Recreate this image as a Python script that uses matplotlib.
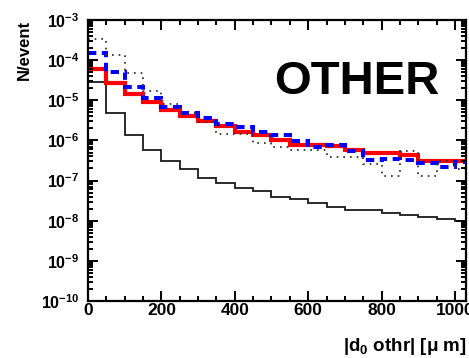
import numpy as np
import matplotlib
matplotlib.use('Agg')
import matplotlib.pyplot as plt
from matplotlib.ticker import LogLocator, MultipleLocator, FuncFormatter, NullFormatter

plt.rcParams['font.family'] = ['Liberation Sans', 'DejaVu Sans']
plt.rcParams['font.weight'] = 'bold'
plt.rcParams['mathtext.fontset'] = 'custom'
plt.rcParams['mathtext.rm'] = 'Liberation Sans:bold'
plt.rcParams['mathtext.bf'] = 'Liberation Sans:bold'
plt.rcParams['mathtext.it'] = 'Liberation Sans:bold'
plt.rcParams['lines.scale_dashes'] = False

# |d0| bins of 50 um
bin_edges = np.arange(0, 1051, 50)

# N/event per bin
black_solid = [2.84e-5, 4.80e-6, 1.35e-6, 5.73e-7, 3.05e-7, 1.89e-7, 1.19e-7,
               8.47e-8, 6.35e-8, 5.44e-8, 3.79e-8, 3.44e-8, 2.78e-8, 2.21e-8,
               1.83e-8, 1.83e-8, 1.54e-8, 1.37e-8, 1.22e-8, 1.11e-8, 9.9e-9]
red_solid = [5.90e-5, 2.64e-5, 1.40e-5, 9.18e-6, 5.70e-6, 4.04e-6, 3.08e-6,
             2.28e-6, 1.64e-6, 1.35e-6, 1.02e-6, 7.64e-7, 7.64e-7, 7.21e-7,
             5.73e-7, 4.74e-7, 4.74e-7, 4.30e-7, 3.05e-7, 3.05e-7, 3.05e-7]
blue_dashed = [1.53e-4, 5.14e-5, 2.17e-5, 1.12e-5, 6.65e-6, 4.71e-6, 3.54e-6,
               2.51e-6, 2.11e-6, 1.58e-6, 1.33e-6, 9.77e-7, 6.92e-7, 7.64e-7,
               5.41e-7, 3.23e-7, 3.42e-7, 3.23e-7, 2.67e-7, 2.20e-7, 2.88e-7]
black_dotted = [3.36e-4, 1.34e-4, 4.76e-5, 1.75e-5, 8.28e-6, 4.93e-6, 2.81e-6,
                1.41e-6, 1.41e-6, 8.41e-7, 6.81e-7, 5.73e-7, 5.73e-7, 3.90e-7,
                3.90e-7, 2.52e-7, 1.31e-7, 5.50e-7, 1.31e-7, 3.10e-7, 1.89e-7]

fig = plt.figure(figsize=(4.69, 3.58), dpi=100)
ax = fig.add_axes([0.1876, 0.1592, 0.806, 0.785])

ax.stairs(black_solid, bin_edges, baseline=None, color='#1a1a1a', linewidth=1.3)
ax.stairs(red_solid, bin_edges, baseline=None, color='red', linewidth=3.0)
ax.stairs(blue_dashed, bin_edges, baseline=None, color='blue', linewidth=2.9,
          linestyle=(0, (6, 4)))
ax.stairs(black_dotted, bin_edges, baseline=None, color='#333333', linewidth=1.3,
          linestyle=(0, (1.2, 3.6)))

ax.set_yscale('log')
ax.set_xlim(0, 1030)
ax.set_ylim(1e-10, 1e-3)

ax.xaxis.set_major_locator(MultipleLocator(200))
ax.xaxis.set_minor_locator(MultipleLocator(50))
ax.yaxis.set_major_locator(LogLocator(base=10, numticks=20))
ax.yaxis.set_minor_locator(LogLocator(base=10, subs=np.arange(2, 10), numticks=20))
ax.yaxis.set_minor_formatter(NullFormatter())
ax.yaxis.set_major_formatter(FuncFormatter(lambda v, p: r'$10^{%d}$' % round(np.log10(v))))

ax.tick_params(which='both', direction='in', top=True, right=True, width=1.4)
ax.tick_params(which='major', length=7)
ax.tick_params(which='minor', length=3.5)
ax.tick_params(axis='x', labelsize=12.5, pad=1.5)
ax.tick_params(axis='y', labelsize=11.5, pad=6)
for lbl in ax.get_xticklabels() + ax.get_yticklabels():
    lbl.set_fontweight('bold')
for sp in ax.spines.values():
    sp.set_linewidth(1.6)

ax.set_ylabel('N/event', fontsize=12, fontweight='bold', loc='top')
ax.yaxis.set_label_coords(-0.148, 1.0)
fig.text(343 / 469, 0.031, r'|d$_0$ othr| [$\mu$ m]', fontsize=13.5,
         fontweight='bold', ha='left', va='center')

ax.text(0.71, 0.78, 'OTHER', transform=ax.transAxes, fontsize=34,
        fontweight='bold', ha='center', va='center')

fig.savefig('out.png', dpi=100)
